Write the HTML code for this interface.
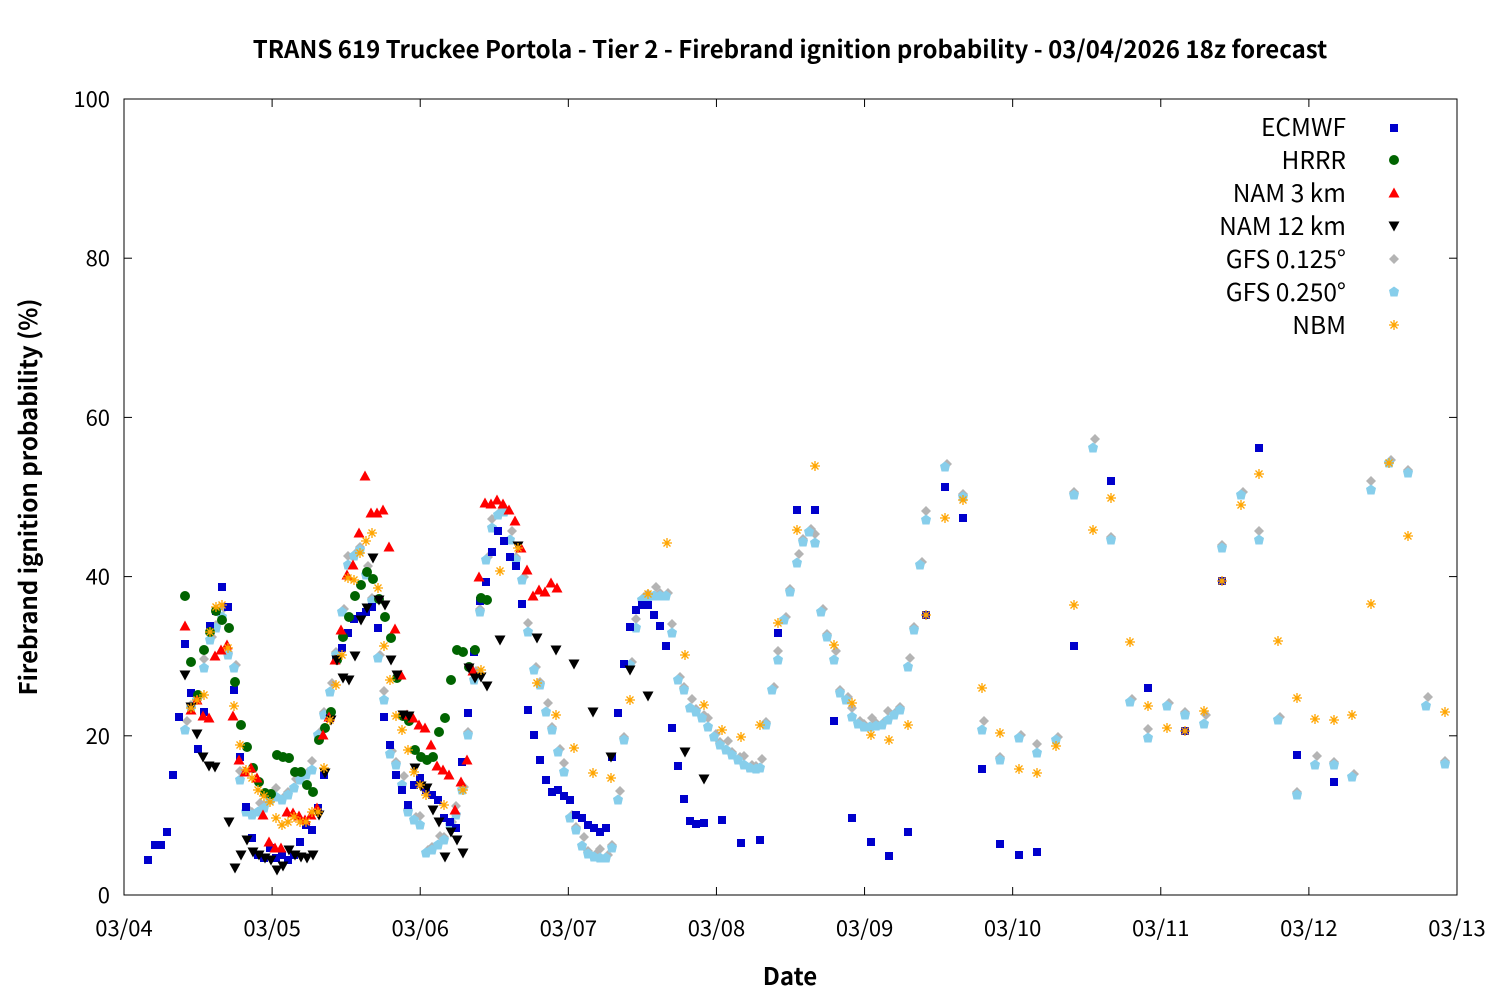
<!DOCTYPE html>
<html><head><meta charset="utf-8"><style>
body{margin:0;background:#fff}
svg text{font-family:"Noto Sans CJK JP","Liberation Sans",sans-serif;fill:#000}
</style></head><body>
<svg id="s" width="1500" height="1000" xmlns="http://www.w3.org/2000/svg">
<rect width="1500" height="1000" fill="#fff"/>
<text x="790" y="58" font-size="24" font-weight="bold" text-anchor="middle">TRANS 619 Truckee Portola - Tier 2 - Firebrand ignition probability - 03/04/2026 18z forecast</text>
<text x="790" y="985" font-size="24" font-weight="bold" text-anchor="middle">Date</text>
<text transform="translate(37,497) rotate(-90)" font-size="24" font-weight="bold" text-anchor="middle">Firebrand ignition probability (%)</text>
<rect x="124" y="99" width="1333" height="796" fill="none" stroke="#000" stroke-width="1"/>
<g id="ax" font-size="22"></g>
<g id="pts"></g>
<g font-size="24.5" text-anchor="end">
<text x="1346" y="136">ECMWF</text><text x="1346" y="169">HRRR</text><text x="1346" y="202">NAM 3 km</text><text x="1346" y="235">NAM 12 km</text><text x="1346" y="268">GFS 0.125°</text><text x="1346" y="301">GFS 0.250°</text><text x="1346" y="334">NBM</text>
</g>
</svg>
<script>
var ns="http://www.w3.org/2000/svg",ax=document.getElementById('ax'),P=document.getElementById('pts');
function el(p,t,a,txt){var e=document.createElementNS(ns,t);for(var k in a)e.setAttribute(k,a[k]);if(txt)e.textContent=txt;p.appendChild(e);return e;}
for(var i=0;i<=5;i++){var y=895-i*159.2;el(ax,'line',{x1:124,x2:132,y1:y,y2:y,stroke:'#000'});el(ax,'line',{x1:1449,x2:1457,y1:y,y2:y,stroke:'#000'});el(ax,'text',{x:110,y:y+8,'text-anchor':'end'},String(i*20));}
var d=['03/04','03/05','03/06','03/07','03/08','03/09','03/10','03/11','03/12','03/13'];
for(i=0;i<10;i++){var x=124+i*148.11;el(ax,'line',{x1:x,x2:x,y1:895,y2:887,stroke:'#000'});el(ax,'line',{x1:x,x2:x,y1:99,y2:107,stroke:'#000'});el(ax,'text',{x:x,y:936,'text-anchor':'middle'},d[i]);}
function sq(x,y,c){el(P,'rect',{x:x-4,y:y-4,width:8,height:8,fill:c});}
function ci(x,y,c){el(P,'circle',{cx:x,cy:y,r:5,fill:c});}
function tu(x,y,c){el(P,'polygon',{points:(x-5.5)+','+(y+4.5)+' '+(x+5.5)+','+(y+4.5)+' '+x+','+(y-5.5),fill:c});}
function td(x,y,c){el(P,'polygon',{points:(x-5.5)+','+(y-4.5)+' '+(x+5.5)+','+(y-4.5)+' '+x+','+(y+5.5),fill:c});}
function di(x,y,c){el(P,'polygon',{points:x+','+(y-5)+' '+(x+5)+','+y+' '+x+','+(y+5)+' '+(x-5)+','+y,fill:c});}
function hx(x,y,c){el(P,'polygon',{points:x+','+(y-5.5)+' '+(x+5)+','+(y-2)+' '+(x+3.5)+','+(y+4.5)+' '+(x-3.5)+','+(y+4.5)+' '+(x-5)+','+(y-2),fill:c});}
function st(x,y,c){var g='M'+(x-5)+' '+y+'h10M'+x+' '+(y-5)+'v10M'+(x-3.5)+' '+(y-3.5)+'l7 7M'+(x-3.5)+' '+(y+3.5)+'l7 -7';el(P,'path',{d:g,stroke:c,'stroke-width':1.3,fill:'none'});}
function S(f,c,a){for(var i=0;i<a.length;i+=2)f(a[i],a[i+1],c);}
var GF=[185,730,191,708,197,700,204,668,210,640,216,628,222,617,228,655,234,668,240,780,246,812,252,815,258,812,264,808,270,800,276,797,282,800,288,795,294,788,300,780,306,775,312,770,318,735,324,715,330,692,336,655,342,612,348,565,354,556,360,550,366,575,372,601,378,658,384,700,390,754,396,765,402,785,408,812,414,820,420,825,426,853,432,850,438,845,444,840,450,825,456,815,462,790,468,735,474,680,480,612,486,560,492,528,498,515,504,512,510,540,516,560,522,580,528,632,534,670,540,685,546,712,552,730,558,752,564,772,570,818,576,830,582,846,588,854,594,857,600,858,606,858,612,848,618,800,624,740,630,665,636,628,642,600,648,597,654,596,660,596,666,596,672,633,678,680,684,690,690,708,696,712,702,718,708,727,714,737,720,745,726,750,732,755,738,760,744,765,750,768,756,769,760,768,766,725,772,690,778,660,784,620,790,592,797,563,803,542,809,532,815,543,821,612,827,637,834,660,840,693,846,700,852,717,858,724,864,727,870,727,876,726,882,725,888,720,894,715,900,710,908,667,914,630,920,565,926,520,945,467,963,497,982,730,1000,760,1019,738,1037,753,1056,740,1074,495,1093,448,1111,540,1130,702,1148,738,1167,706,1185,715,1204,724,1222,548,1241,495,1259,540,1278,720,1297,795,1315,765,1334,765,1352,777,1371,490,1389,463,1408,473,1426,706,1445,764];
var G1=[];for(i=0;i<GF.length;i+=2)G1.push(GF[i]+(i%4?0:2),GF[i+1]-3+(i%6?0:-6));
S(di,'#b4b4b4',G1);S(hx,'#87ceeb',GF);
S(sq,'#0000cc',[148,860,155,845,161,845,167,832,173,775,179,717,185,644,191,693,198,749,204,712,210,626,216,611,222,587,228,607,234,690,240,757,246,807,252,838,258,855,264,858,270,848,276,858,282,855,288,860,294,855,300,842,306,825,312,830,318,808,324,775,330,718,336,660,342,648,348,633,354,619,360,616,366,612,372,607,378,628,384,717,390,745,396,775,402,790,408,805,414,785,420,778,426,790,432,795,438,800,444,818,450,822,456,828,462,762,468,713,474,652,480,601,486,582,492,552,498,531,504,541,510,557,516,566,522,604,528,710,534,735,540,760,546,780,552,792,558,790,564,796,570,800,576,815,582,818,588,825,594,828,600,832,606,828,612,757,618,713,624,664,630,627,636,610,642,605,648,605,654,615,660,626,666,646,672,728,678,766,684,799,690,821,696,824,704,823,722,820,741,843,760,840,778,633,797,510,815,510,834,721,852,818,871,842,889,856,908,832,926,615,945,487,963,518,982,769,1000,844,1019,855,1037,852,1074,646,1111,481,1148,688,1185,731,1222,581,1259,448,1297,755,1334,782]);
S(ci,'#006400',[185,596,191,662,198,695,204,650,210,632,216,611,222,620,229,628,235,682,241,725,247,747,253,768,259,782,265,793,271,794,277,755,283,757,289,758,295,772,301,772,307,785,313,792,319,740,325,728,331,712,337,660,343,637,349,617,355,596,361,585,367,572,373,579,379,599,385,617,391,638,397,678,403,716,409,721,415,750,421,757,427,760,433,757,439,732,445,718,451,680,457,650,463,652,469,667,475,650,481,598,487,600]);
S(tu,'#ff0000',[185,626,191,710,197,700,203,716,209,718,215,656,221,650,227,645,233,716,239,760,245,772,251,768,257,778,263,815,269,842,275,848,281,848,287,812,293,813,299,816,305,820,311,815,317,808,323,735,329,717,335,660,341,630,347,575,353,565,359,533,365,476,371,513,377,513,383,510,389,547,395,629,401,675,407,715,413,718,419,725,425,728,431,745,437,766,443,770,449,775,455,810,461,782,467,760,473,671,479,577,485,503,491,504,497,500,503,504,509,510,515,521,521,548,527,570,533,596,539,590,545,592,551,583,557,588]);
S(td,'#000',[185,675,191,707,197,734,203,757,209,766,215,767,229,822,235,868,241,855,247,840,253,852,259,855,265,858,271,860,277,870,283,866,289,850,295,855,301,857,307,858,313,855,319,815,325,773,331,720,337,660,343,678,349,680,355,656,361,620,367,608,373,558,379,600,385,605,391,660,397,675,403,715,409,716,415,768,421,786,427,788,433,810,439,822,445,857,451,832,457,840,463,853,469,668,475,678,481,677,487,686,500,640,518,546,537,638,556,650,574,664,593,712,611,757,630,670,648,696,685,752,704,779]);
S(st,'#ffa500',[191,708,197,700,204,695,210,632,216,607,222,605,228,648,234,706,240,745,246,770,252,778,258,790,264,796,270,802,276,818,282,825,288,822,294,817,300,822,306,822,312,812,318,812,324,768,330,720,336,685,342,655,348,578,354,580,360,553,366,541,372,533,378,588,384,646,390,680,396,716,402,730,408,750,414,772,420,785,426,795,444,805,463,790,481,670,500,571,518,548,537,683,556,715,574,748,593,773,611,778,630,700,648,594,667,543,685,655,704,705,722,730,741,737,760,725,778,623,797,530,815,466,834,645,852,703,871,735,889,740,908,725,926,615,945,518,963,500,982,688,1000,733,1019,769,1037,773,1056,746,1074,605,1093,530,1111,498,1130,642,1148,706,1167,728,1185,731,1204,711,1222,581,1241,505,1259,474,1278,641,1297,698,1315,719,1334,720,1352,715,1371,604,1389,463,1408,536,1445,712]);
sq(1394,128,'#0000cc');ci(1394,160,'#006400');tu(1394,193,'#ff0000');td(1394,226,'#000');di(1394,259,'#b4b4b4');hx(1394,292,'#87ceeb');st(1394,325,'#ffa500');
</script>
</body></html>
